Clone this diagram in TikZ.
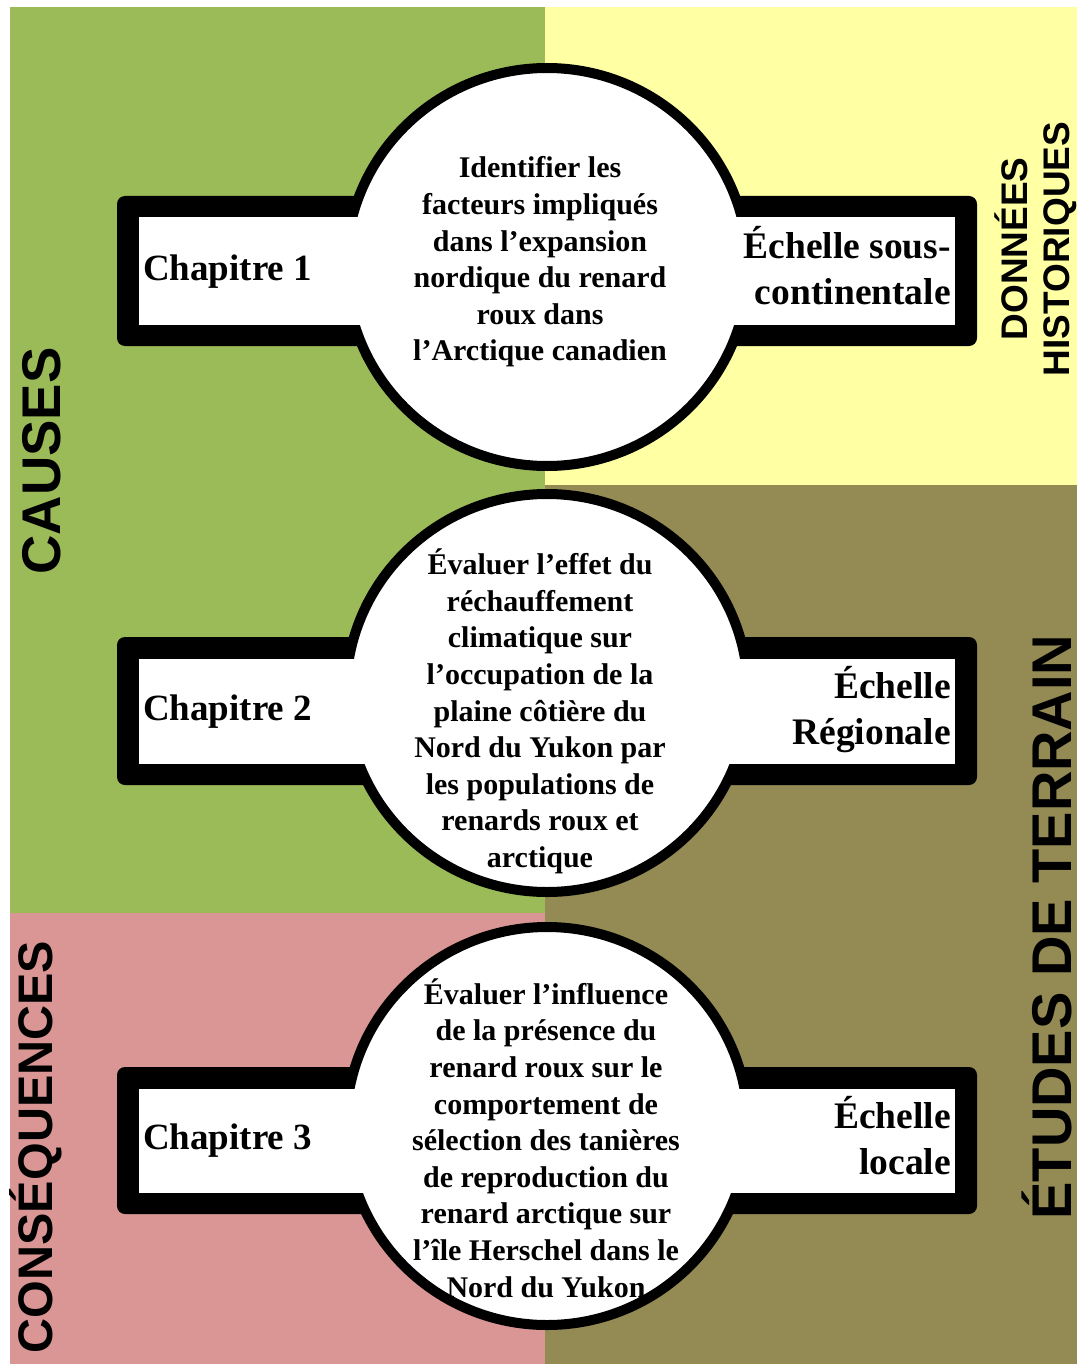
\documentclass[tikz,border=0pt]{standalone}
\usepackage{fontspec}
\setmainfont{Liberation Serif}
\setsansfont{Liberation Sans}
\definecolor{cgreen}{HTML}{9BBB59}
\definecolor{cyellow}{HTML}{FFFFA3}
\definecolor{colive}{HTML}{948A54}
\definecolor{cpink}{HTML}{D99694}
\begin{document}
\begin{tikzpicture}[x=1pt,y=-1pt,
  barout/.style={fill=black, rounded corners=8pt},
  barin/.style={fill=white},
  bubble/.style={fill=white, draw=black, line width=10pt},
  bubbletext/.style={align=center, inner sep=0pt, font=\bfseries\fontsize{30}{36.6}\selectfont},
  chap/.style={anchor=base west, inner sep=0pt, font=\bfseries\fontsize{37}{44}\selectfont},
  scalelab/.style={anchor=east, align=right, inner sep=0pt, font=\bfseries\fontsize{37.5}{46}\selectfont},
  vlab/.style={rotate=90, inner sep=0pt, font=\sffamily\bfseries}
]
\fill[white] (0,0) rectangle (1077,1364);
\useasboundingbox (0,0) rectangle (1077,1364);
% panels
\fill[cgreen] (10,7) rectangle (545,913);
\fill[cyellow] (545,7) rectangle (1077,485);
\fill[colive] (545,485) rectangle (1077,1364);
\fill[cpink] (10,913) rectangle (545,1364);
% bars and bubbles
\foreach \t/\b/\c in {196/346/267, 637/785/693, 1067/1214/1126} {
  \fill[barout] (117,\t) rectangle (977,\b);
  \draw[bubble] (547,\c) ellipse [x radius=201pt, y radius=199pt];
  \fill[barin] (139,\t+21.5) rectangle (955,\b-21.5);
}
% row 1
\node[chap] (ch1) at (143,280) {Chapitre 1};
\node[bubbletext] (obj1) at (540,262) {Identifier les\\facteurs impliqués\\dans l’expansion\\nordique du renard\\roux dans\\l’Arctique canadien};
\node[scalelab] (sc1) at (951,266) {Échelle sous-\\continentale};
% row 2
\node[chap] (ch2) at (143,720) {Chapitre 2};
\node[bubbletext] (obj2) at (540,711.5) {Évaluer l’effet du\\réchauffement\\climatique sur\\l’occupation de la\\plaine côtière du\\Nord du Yukon par\\les populations de\\renards roux et\\arctique};
\node[scalelab] (sc2) at (951,710) {Échelle\\Régionale};
% row 3
\node[chap] (ch3) at (143,1149) {Chapitre 3};
\node[bubbletext] (obj3) at (546,1138) {Évaluer l’influence\\de la présence du\\renard roux sur le\\comportement de\\sélection des tanières\\de reproduction du\\renard arctique sur\\l’île Herschel dans le\\Nord du Yukon};
\node[scalelab] (sc3) at (951,1136) {Échelle\\locale};
% side labels
\node[vlab, anchor=base, font=\sffamily\bfseries\fontsize{54.5}{60}\selectfont] (causes) at (60,461) {CAUSES};
\node[vlab, anchor=base, font=\sffamily\bfseries\fontsize{48.5}{54}\selectfont] (cons) at (52,1147) {CONSÉQUENCES};
\node[vlab, anchor=base, font=\sffamily\bfseries\fontsize{56}{62}\selectfont] (terrain) at (1071,927) {ÉTUDES DE TERRAIN};
\node[vlab, align=center, font=\sffamily\bfseries\fontsize{37}{42}\selectfont] (histo) at (1036,249) {DONNÉES\\HISTORIQUES};
\end{tikzpicture}
\end{document}
